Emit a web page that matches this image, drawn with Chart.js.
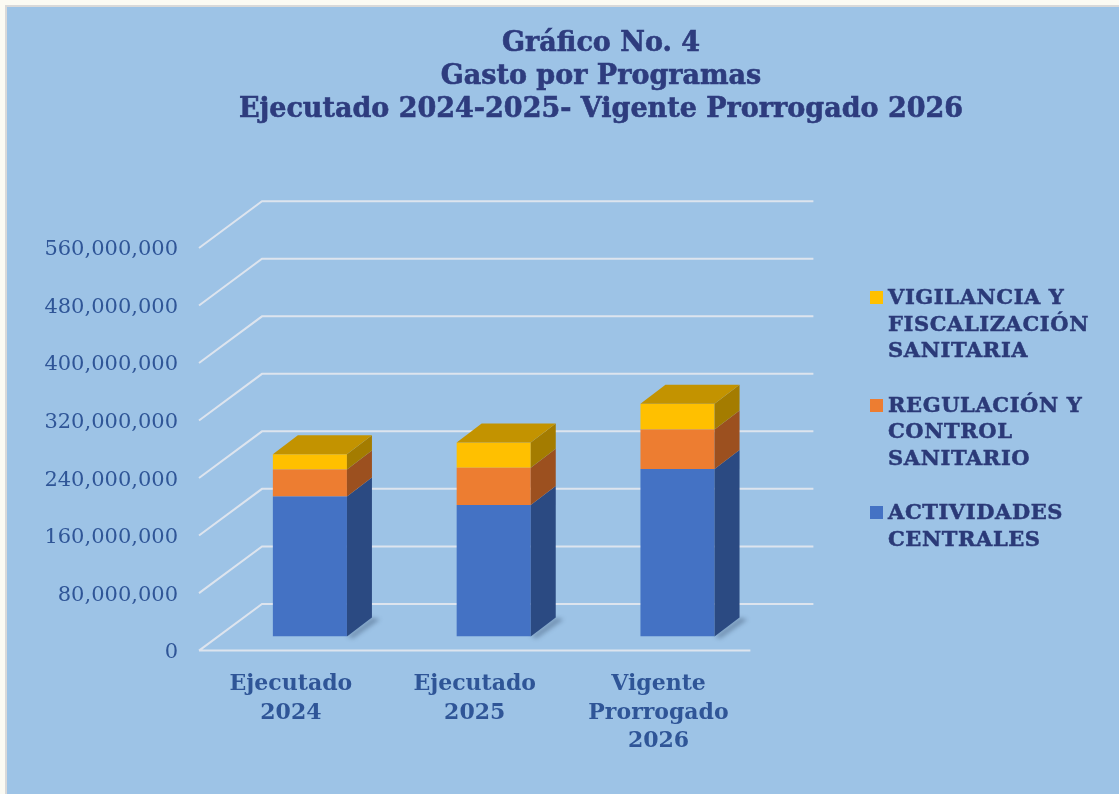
<!DOCTYPE html>
<html>
<head>
<meta charset="utf-8">
<script src="https://cdn.jsdelivr.net/npm/chart.js@4.4.1/dist/chart.umd.min.js"></script>
<style>
  html, body { margin: 0; padding: 0; background: #FBFAF3; }
  #panel { position: absolute; left: 5px; top: 5px; width: 1114px; height: 789px;
           background: #9DC3E6; border-left: 2px solid #D9D9D9; border-top: 2px solid #D9D9D9; box-sizing: border-box; }
  #wrap { position: absolute; left: 0; top: 0; width: 1119px; height: 794px; }
  #title { position: absolute; left: 0; top: 25px; width: 1202px; text-align: center;
           font-family: "DejaVu Serif", serif; font-weight: bold; font-size: 27px; line-height: 33px; color: #2E3C7E;
           -webkit-text-stroke: 0.6px #2E3C7E; }
  #legend { position: absolute; left: 870px; top: 284px; font-family: "DejaVu Serif", serif; font-weight: bold;
            font-size: 21px; line-height: 26.5px; color: #2B3A78; letter-spacing: 0.6px; -webkit-text-stroke: 0.5px #2B3A78; }
  .item { position: relative; padding-left: 18px; margin-bottom: 28px; }
  .sw { position: absolute; left: 0; top: 7px; width: 13px; height: 13px; }
</style>
</head>
<body>
<div id="panel"></div>
<div id="wrap"><canvas id="c" width="1119" height="794"></canvas></div>
<div id="title"></div>
<div id="legend"></div>
<script>
// ---- data ----
const titleLines = ["Gráfico No. 4", "Gasto por Programas", "Ejecutado 2024-2025- Vigente Prorrogado 2026"];
const categories = [["Ejecutado", "2024"], ["Ejecutado", "2025"], ["Vigente", "Prorrogado", "2026"]];
const actividadesCentrales = [195000000, 183000000, 233000000];
const regulacionControl = [37500000, 52000000, 55000000];
const vigilanciaFiscalizacion = [21000000, 35000000, 36000000];
const seriesNames = [["ACTIVIDADES", "CENTRALES"], ["REGULACIÓN Y", "CONTROL", "SANITARIO"], ["VIGILANCIA Y", "FISCALIZACIÓN", "SANITARIA"]];
const yTickMax = 560000000;
const yTickStep = 80000000;

// ---- styles ----
const frontColors = ["#4472C4", "#ED7D31", "#FFC000"];
const sideColors = ["#2B4A82", "#9C501F", "#A47C00"];
const topColors = ["#2F5597", "#B5602A", "#C39300"];
const axisColor = "#2F5597";
const gridColor = "rgba(228,232,238,0.9)";
const D = { dx: 25, dy: -19 };          // bar depth
const BACK = { dx: 44, dy: -32.7 };     // back wall offset from bar plane
const FRONT = { dx: -19, dy: 14 };      // front edge offset from bar plane

document.getElementById('title').innerHTML = titleLines.join('<br>');

const datasets = [actividadesCentrales, regulacionControl, vigilanciaFiscalizacion].map((d, i) => ({
  label: seriesNames[i].join(' '),
  data: d,
  backgroundColor: frontColors[i],
  borderWidth: 0,
  barPercentage: 0.403,
  categoryPercentage: 1.0
}));

// HTML legend (top series first)
const leg = document.getElementById('legend');
[2, 1, 0].forEach(i => {
  const it = document.createElement('div');
  it.className = 'item';
  it.innerHTML = '<span class="sw" style="background:' + frontColors[i] + '"></span>' + seriesNames[i].join('<br>');
  leg.appendChild(it);
});

const pseudo3d = {
  id: 'pseudo3d',
  beforeDatasetsDraw(chart) {
    const ctx = chart.ctx, ys = chart.scales.y, a = chart.chartArea;
    ctx.save();
    ctx.strokeStyle = gridColor;
    ctx.lineWidth = 2;
    ys.ticks.forEach(t => {
      const py = ys.getPixelForValue(t.value);
      ctx.beginPath();
      ctx.moveTo(a.left + FRONT.dx, py + FRONT.dy);
      ctx.lineTo(a.left + BACK.dx, py + BACK.dy);
      ctx.lineTo(a.right + BACK.dx, py + BACK.dy);
      if (t.value === 0) {
        ctx.moveTo(a.left + FRONT.dx, py + FRONT.dy);
        ctx.lineTo(a.right + FRONT.dx, py + FRONT.dy);
      }
      ctx.stroke();
    });
    // soft shadows under bars
    const meta0 = chart.getDatasetMeta(0);
    meta0.data.forEach(bar => {
      const r = bar.x + bar.width / 2, b = bar.base;
      ctx.fillStyle = 'rgba(40,60,90,0.35)';
      ctx.beginPath();
      ctx.moveTo(r, b);
      ctx.lineTo(r + D.dx, b + D.dy);
      ctx.lineTo(r + D.dx + 8, b + D.dy + 2);
      ctx.lineTo(r + 6, b + 2);
      ctx.closePath();
      ctx.filter = 'blur(2px)';
      ctx.fill();
      ctx.filter = 'none';
    });
    ctx.restore();
  },
  afterDatasetsDraw(chart) {
    const ctx = chart.ctx;
    ctx.save();
    const n = chart.data.datasets.length;
    for (let i = 0; i < n; i++) {
      const meta = chart.getDatasetMeta(i);
      meta.data.forEach(bar => {
        const l = bar.x - bar.width / 2, r = bar.x + bar.width / 2;
        const top = Math.min(bar.y, bar.base), bot = Math.max(bar.y, bar.base);
        ctx.fillStyle = sideColors[i];
        ctx.beginPath();
        ctx.moveTo(r, top);
        ctx.lineTo(r + D.dx, top + D.dy);
        ctx.lineTo(r + D.dx, bot + D.dy);
        ctx.lineTo(r, bot);
        ctx.closePath();
        ctx.fill();
        if (i === n - 1) {
          ctx.fillStyle = topColors[i];
          ctx.beginPath();
          ctx.moveTo(l, top);
          ctx.lineTo(l + D.dx, top + D.dy);
          ctx.lineTo(r + D.dx, top + D.dy);
          ctx.lineTo(r, top);
          ctx.closePath();
          ctx.fill();
        }
      });
    }
    ctx.restore();
  }
};

new Chart(document.getElementById('c'), {
  type: 'bar',
  data: { labels: categories, datasets },
  plugins: [pseudo3d],
  options: {
    responsive: false,
    animation: false,
    layout: { padding: { left: 0, right: 349.6, top: 234, bottom: 0 } },
    plugins: { legend: { display: false }, title: { display: false }, tooltip: { enabled: false } },
    scales: {
      x: {
        stacked: true,
        grid: { display: false, drawTicks: false },
        border: { display: false },
        afterFit(s) { s.height = 794 - 636.6; },
        ticks: {
          color: axisColor, padding: 34, labelOffset: -19, maxRotation: 0, autoSkip: false,
          font: { family: "DejaVu Serif", weight: 'bold', size: 22, lineHeight: 1.28 }
        }
      },
      y: {
        stacked: true,
        min: 0, max: yTickMax,
        grid: { display: false, drawTicks: false },
        border: { display: false },
        afterFit(s) { s.width = 218; },
        ticks: {
          stepSize: yTickStep, color: axisColor, padding: 40, labelOffset: 16,
          font: { family: "DejaVu Serif", size: 21 },
          callback: v => v.toLocaleString('en-US')
        }
      }
    }
  }
});
</script>
</body>
</html>
